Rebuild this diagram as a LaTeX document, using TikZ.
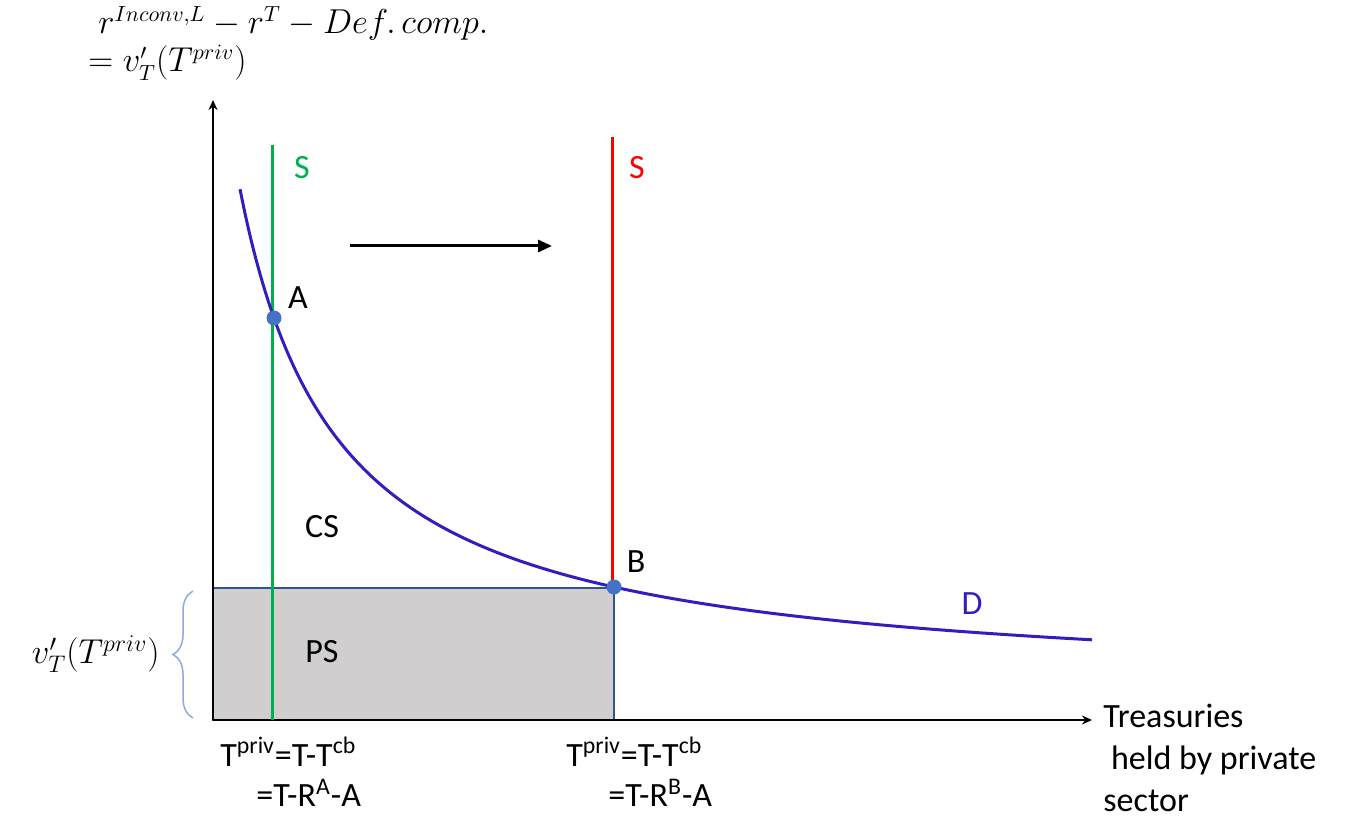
\documentclass[tikz,border=0pt]{standalone}
\usepackage{fontspec}
\setmainfont{Carlito}
\usetikzlibrary{arrows.meta,decorations.pathreplacing}
\definecolor{sgreen}{RGB}{0,176,80}
\definecolor{sred}{RGB}{255,0,0}
\definecolor{dblue}{RGB}{50,30,190}
\definecolor{dotblue}{RGB}{68,114,196}
\definecolor{boxgray}{RGB}{208,206,206}
\definecolor{boxedge}{RGB}{47,85,151}
\definecolor{braceblue}{RGB}{143,170,220}
\begin{document}
\begin{tikzpicture}[x=0.5pt,y=0.5pt,
    every node/.style={font=\fontsize{17}{21}\selectfont, inner sep=0pt},
    mathlab/.style={font=\fontsize{16}{19}\selectfont},
    eqpoint/.style={circle, fill=dotblue, minimum size=7.5pt},
    axis/.style={line width=1pt, -{Stealth[length=5pt,width=4.5pt]}}]
  \useasboundingbox (0,0) rectangle (1365,820);
  \coordinate (O) at (213,100);
  \coordinate (ytop) at (213,720);
  \coordinate (xend) at (1092,100);
  \coordinate (boxtop) at (614,232);
  % surplus box
  \draw[fill=boxgray, draw=boxedge, line width=0.75pt] (O) rectangle (boxtop);
  % axes
  \draw[axis] (O) -- (ytop);
  \draw[axis] (O) -- (xend);
  % supply lines
  \coordinate (sAbot) at (272,100);
  \coordinate (sAtop) at (272,675);
  \coordinate (sBbot) at (612,232);
  \coordinate (sBtop) at (612,683);
  \draw[sgreen, line width=1.5pt] (sAbot) -- (sAtop);
  \draw[sred, line width=1.5pt] (sBbot) -- (sBtop);
  \node[sgreen] (S1) at (302,652) {S};
  \node[sred] (S2) at (637,652) {S};
  % shift
  \coordinate (shA) at (350,574);
  \coordinate (shB) at (552,574);
  \draw[line width=1.5pt, -{Triangle[length=7pt,width=6pt]}] (shA) -- (shB);
  % demand
  \draw[dblue, line width=1.5pt, domain=240:1092, samples=160, smooth]
    plot (\x, {128 + 4963/((\x-141.3)/10)});
  \node[dblue] (D) at (972,216) {D};
  % equilibria
  \node[eqpoint] (A) at (274,502) {};
  \node[eqpoint] (B) at (614,233) {};
  \node (Alab) at (298,522) {A};
  \node (Blab) at (636,258) {B};
  \node (CS) at (322,293) {CS};
  \node (PS) at (322,168) {PS};
  % brace
  \coordinate (brbot) at (193,102);
  \coordinate (brtop) at (193,229);
  \draw[braceblue, line width=0.75pt, decorate, decoration={brace, amplitude=10pt}] (brbot) -- (brtop);
  \node[anchor=east] (vlab) at (160,166) {$v'_T\bigl(T^{priv}\bigr)$};
  % axis labels
  \node[mathlab, anchor=base west, align=left] (ylab) at (88,748)
    {\hspace{5pt}$r^{Inconv,L}-r^{T}-Def.\,comp.$\\$= v'_T\bigl(T^{priv}\bigr)$};
  \node[anchor=north west, align=left] (xlab) at (1103,116) {Treasuries\\ \ held by private\\sector};
  \node[anchor=west] (tA1) at (220,68) {T\textsuperscript{priv}=T-T\textsuperscript{cb}};
  \node[anchor=west] (tA2) at (256,27) {=T-R\textsuperscript{A}-A};
  \node[anchor=west] (tB1) at (566,68) {T\textsuperscript{priv}=T-T\textsuperscript{cb}};
  \node[anchor=west] (tB2) at (608,27) {=T-R\textsuperscript{B}-A};
\end{tikzpicture}
\end{document}
